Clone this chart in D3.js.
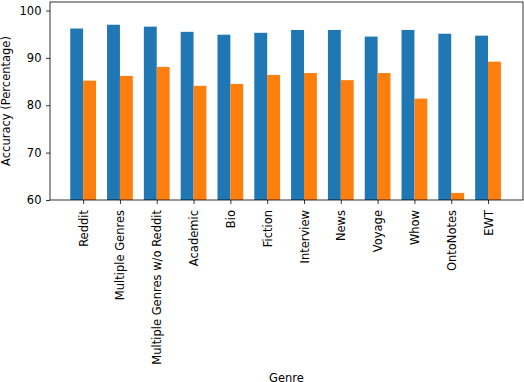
<!DOCTYPE html>
<html>
<head>
<meta charset="utf-8">
<script src="https://cdn.jsdelivr.net/npm/d3@7"></script>
<style>
  body { margin: 0; background: #fff; }
  text { font-family: "DejaVu Sans", sans-serif; }
</style>
</head>
<body>
<div class="chart"></div>
<script>
// Data
var genres = ["Reddit", "Multiple Genres", "Multiple Genres w/o Reddit", "Academic", "Bio",
  "Fiction", "Interview", "News", "Voyage", "Whow", "OntoNotes", "EWT"];
var blueValues = [96.2, 97.0, 96.6, 95.5, 94.9, 95.3, 95.9, 95.9, 94.5, 95.9, 95.1, 94.7];
var orangeValues = [85.2, 86.2, 88.1, 84.1, 84.5, 86.4, 86.8, 85.3, 86.8, 81.4, 61.5, 89.2];
var yTicks = [60, 70, 80, 90, 100];

// Chart dimensions
var svgWidth = 524;
var svgHeight = 382;
var margin = { top: 2, right: 1, bottom: 182, left: 50 };
var width = svgWidth - margin.left - margin.right;
var height = svgHeight - margin.top - margin.bottom;
var barWidth = 0.35;
var fontSize = "11.5px";

var svg = d3.select(".chart")
  .append("svg")
  .attr("width", svgWidth)
  .attr("height", svgHeight);

var chart = svg.append("g")
  .attr("transform", "translate(" + margin.left + "," + margin.top + ")");

var xScale = d3.scaleLinear().domain([-0.9, 11.95]).range([0, width]);
var yScale = d3.scaleLinear().domain([60, 101.8]).range([height, 0]);

// Bars
chart.selectAll(".bar-blue")
  .data(blueValues)
  .enter().append("rect")
  .attr("class", "bar-blue")
  .attr("x", function(d, i) { return xScale(i - barWidth); })
  .attr("y", function(d) { return yScale(d); })
  .attr("width", function(d, i) { return xScale(i) - xScale(i - barWidth); })
  .attr("height", function(d) { return height - yScale(d); })
  .attr("fill", "#1f77b4");

chart.selectAll(".bar-orange")
  .data(orangeValues)
  .enter().append("rect")
  .attr("class", "bar-orange")
  .attr("x", function(d, i) { return xScale(i); })
  .attr("y", function(d) { return yScale(d); })
  .attr("width", function(d, i) { return xScale(i + barWidth) - xScale(i); })
  .attr("height", function(d) { return height - yScale(d); })
  .attr("fill", "#ff7f0e");

// Axes
var bottomAxis = d3.axisBottom(xScale)
  .tickValues(d3.range(genres.length))
  .tickFormat(function(d) { return genres[d]; })
  .tickSize(4)
  .tickPadding(4)
  .tickSizeOuter(0);
var leftAxis = d3.axisLeft(yScale)
  .tickValues(yTicks)
  .tickSize(4)
  .tickPadding(4.5)
  .tickSizeOuter(0);

var xAxisG = chart.append("g")
  .attr("transform", "translate(0," + height + ")")
  .call(bottomAxis);
xAxisG.select(".domain").remove();
xAxisG.selectAll("text")
  .attr("font-size", fontSize)
  .attr("font-family", "DejaVu Sans")
  .attr("fill", "#000")
  .attr("transform", "rotate(-90)")
  .attr("text-anchor", "end")
  .attr("x", -10)
  .attr("y", 0)
  .attr("dy", "0.35em");

var yAxisG = chart.append("g").call(leftAxis);
yAxisG.select(".domain").remove();
yAxisG.selectAll("text")
  .attr("font-size", fontSize)
  .attr("font-family", "DejaVu Sans")
  .attr("fill", "#000");

chart.selectAll(".tick line").attr("stroke", "#000").attr("stroke-width", 0.8);

// Frame
chart.append("rect")
  .attr("x", 0)
  .attr("y", 0)
  .attr("width", width)
  .attr("height", height)
  .attr("fill", "none")
  .attr("stroke", "#000")
  .attr("stroke-width", 0.8);

// Axis labels
chart.append("text")
  .attr("transform", "rotate(-90)")
  .attr("x", -height / 2)
  .attr("y", -margin.left + 10)
  .attr("text-anchor", "middle")
  .attr("font-size", fontSize)
  .text("Accuracy (Percentage)");

chart.append("text")
  .attr("x", width / 2)
  .attr("y", height + 182)
  .attr("text-anchor", "middle")
  .attr("font-size", fontSize)
  .text("Genre");
</script>
</body>
</html>
